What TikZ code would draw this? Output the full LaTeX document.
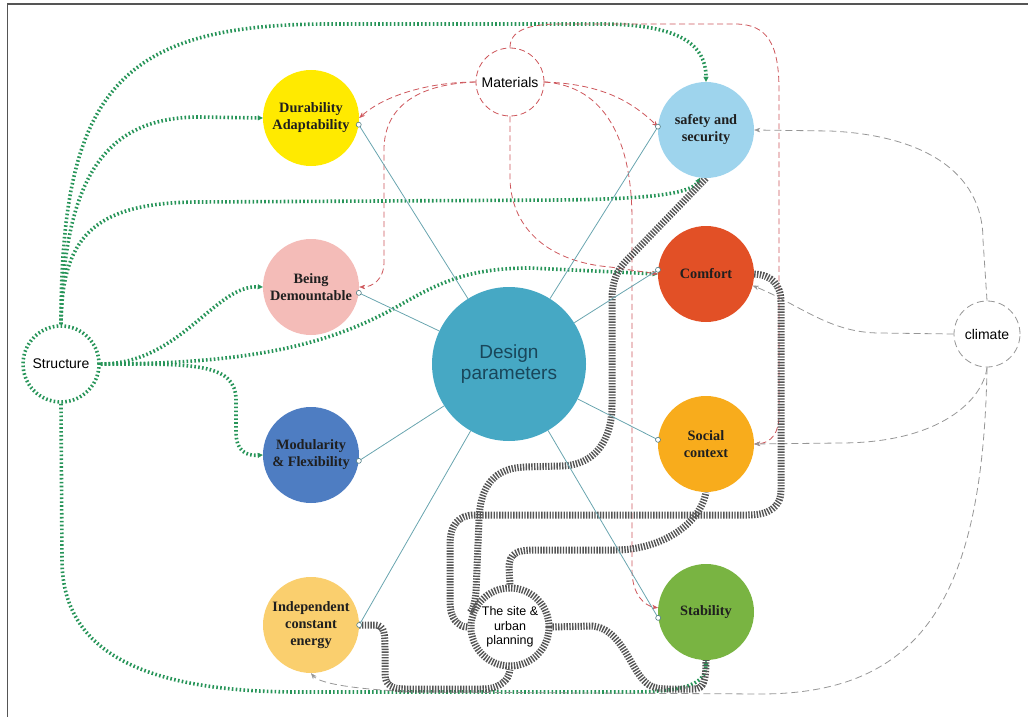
\documentclass[tikz,border=0pt]{standalone}
\usepackage{fontspec}
\setmainfont{Liberation Serif}
\newfontfamily\arialfont{Liberation Sans}
\usetikzlibrary{arrows.meta}

\pgfdeclarelayer{links}
\pgfsetlayers{links,main}

% fills of the parameter circles
\definecolor{durcol}{RGB}{255,234,0}
\definecolor{demcol}{RGB}{244,188,184}
\definecolor{modcol}{RGB}{78,125,194}
\definecolor{indcol}{RGB}{250,207,110}
\definecolor{safcol}{RGB}{158,212,237}
\definecolor{comcol}{RGB}{226,80,38}
\definecolor{soccol}{RGB}{248,172,28}
\definecolor{stacol}{RGB}{121,180,66}
\definecolor{hubcol}{RGB}{70,168,196}
\definecolor{hubtext}{RGB}{25,70,90}
% connector colours
\definecolor{linkteal}{RGB}{105,165,175}
\definecolor{dotgreen}{RGB}{38,148,88}
\definecolor{matred}{RGB}{205,85,90}
\definecolor{climgray}{RGB}{150,150,150}
\definecolor{sitegray}{RGB}{85,85,85}
\definecolor{framegray}{RGB}{85,85,85}

\begin{document}
\begin{tikzpicture}[x=1pt,y=-1pt,
  param/.style={circle, fill=#1, minimum size=96pt, inner sep=0pt, align=center,
    font=\bfseries\fontsize{14.3}{17}\selectfont, text=black!88},
  hub/.style={circle, fill=hubcol, minimum size=154pt, inner sep=0pt, align=center,
    font=\arialfont\fontsize{19}{21}\selectfont, text=hubtext},
  ring/.style={circle, fill=white, inner sep=0pt, align=center,
    font=\arialfont\fontsize{14}{16}\selectfont},
  link/.style={draw=linkteal, line width=0.8pt},
  enddot/.style={circle, draw=linkteal!75!black, fill=white, inner sep=0pt,
    minimum size=5pt, line width=0.6pt},
  structline/.style={draw=dotgreen, line width=3.6pt, dash pattern=on 1.6pt off 2.3pt},
  structarrow/.style={structline, -{Triangle[length=5pt,width=5pt,line width=0.3pt]}},
  matline/.style={draw=matred, line width=0.8pt, dash pattern=on 6pt off 3.5pt,
    -{Stealth[length=6pt,width=4.5pt,line width=0.3pt]}},
  climline/.style={draw=climgray, line width=0.8pt, dash pattern=on 7pt off 4pt,
    -{Stealth[length=6pt,width=4.5pt,line width=0.3pt]}},
  siteline/.style={draw=sitegray, line width=7pt, dash pattern=on 1.4pt off 1.4pt},
  frameline/.style={draw=framegray, line width=1.6pt}
]
\useasboundingbox (0,0) rectangle (1028,717);
\draw[frameline] (7.5,717) -- (7.5,4) -- (1028,4);

% parameter circles
\node[param=durcol] (dur) at (311,118) {Durability\\Adaptability};
\node[param=demcol] (dem) at (311,287) {Being\\Demountable};
\node[param=modcol] (mod) at (311,455) {Modularity\\\& Flexibility};
\node[param=indcol] (ind) at (311,625) {Independent\\constant\\energy};
\node[param=safcol] (saf) at (706,130) {safety and\\security};
\node[param=comcol] (com) at (706,274) {Comfort};
\node[param=soccol] (soc) at (706,444) {Social\\context};
\node[param=stacol] (sta) at (706,612) {Stability};
\node[hub] (dp) at (509,364) {Design\\parameters};

% factor circles
\node[ring, minimum size=68pt, draw=matred, line width=0.8pt, dash pattern=on 6pt off 3.5pt] (mat) at (510,82) {Materials};
\node[ring, minimum size=66pt, draw=climgray, line width=0.8pt, dash pattern=on 7pt off 4pt] (cli) at (987,334) {climate};
\node[ring, minimum size=76pt, structline] (st) at (61,364) {Structure};
\node[ring, minimum size=78pt, siteline, font=\arialfont\fontsize{12.5}{14.5}\selectfont] (site) at (510,627) {The site \&\\urban\\planning};

% design parameters to each parameter
\draw[link] (dp) -- (dur.-8) node[enddot]{};
\draw[link] (dp) -- (dem.-7) node[enddot]{};
\draw[link] (dp) -- (mod.-7) node[enddot]{};
\draw[link] (dp) -- (ind.east) node[enddot]{};
\draw[link] (dp) -- (saf.176) node[enddot]{};
\draw[link] (dp) -- (com.175) node[enddot]{};
\draw[link] (dp) -- (soc.175) node[enddot]{};
\draw[link] (dp) -- (sta.187) node[enddot]{};

\begin{pgfonlayer}{links}
% structure
\draw[structarrow] (st.north) .. controls (61,90) and (120,24) .. (330,24) -- (600,24) .. controls (680,24) and (706,45) .. (saf.north);
\draw[structarrow] (st.north) .. controls (64,170) and (110,117) .. (200,117) -- (dur.west);
\draw[structarrow] (st.north) .. controls (62,240) and (90,202) .. (200,202) -- (560,200) .. controls (640,199) and (690,195) .. (saf.-97);
\draw[structarrow] (st.east) .. controls (180,364) and (215,285) .. (dem.west);
\draw[structarrow] (st.east) .. controls (250,364) and (330,345) .. (400,305) .. controls (440,282) and (470,268) .. (530,268) -- (com.west);
\draw[structarrow] (st.east) .. controls (190,364) and (236,362) .. (236,400) -- (236,432) .. controls (236,450) and (245,456) .. (mod.west);
\draw[structarrow] (st.south) -- (62,560) .. controls (62,650) and (140,692) .. (300,692) -- (630,692) .. controls (690,692) and (706,682) .. (sta.south);

% materials
\draw[matline] (mat.west) .. controls (430,82) and (385,95) .. (dur.east);
\draw[matline] (mat.west) .. controls (420,84) and (384,105) .. (384,150) -- (384,262) .. controls (384,280) and (372,287) .. (dem.east);
\draw[matline] (mat.east) .. controls (600,84) and (630,100) .. (saf.176);
\draw[matline] (mat.east) .. controls (605,86) and (632,140) .. (632,220) -- (632,570) .. controls (632,595) and (645,606) .. (sta.175);
\draw[matline] (mat.south) -- (510,180) .. controls (512,230) and (550,262) .. (610,267) -- (com.west);
\draw[matline] (mat.north) .. controls (510,32) and (525,24) .. (560,24) -- (735,24) .. controls (768,24) and (779,45) .. (779,90) -- (779,415) .. controls (779,432) and (772,443) .. (soc.east);

% climate
\draw[climline] (cli.north) -- (983,240) .. controls (983,170) and (920,135) .. (830,131) -- (saf.east);
\draw[climline] (cli.west) -- (880,333) .. controls (830,333) and (800,305) .. (com.-14);
\draw[climline] (cli.south) .. controls (983,400) and (940,443) .. (840,443) -- (soc.east);
\draw[climline] (cli.south) .. controls (983,600) and (920,694) .. (760,694) -- (420,692) .. controls (360,690) and (320,684) .. (ind.south);

% site and urban planning
\draw[siteline] (ind.east) -- (375,625) .. controls (385,625) and (385,635) .. (385,650) -- (385,674) .. controls (385,686) and (393,689) .. (405,689) -- (482,689) .. controls (500,689) and (509,680) .. (site.south);
\draw[siteline] (site.east) -- (592,626) .. controls (618,628) and (628,660) .. (640,676) .. controls (648,687) and (655,689) .. (668,689) -- (694,689) .. controls (704,689) and (706,680) .. (sta.south);
\draw[siteline] (site.north) -- (509,568) .. controls (509,553) and (517,550) .. (535,550) -- (615,550) .. controls (660,550) and (700,525) .. (soc.south);
\draw[siteline] (com.east) .. controls (772,275) and (781,285) .. (781,302) -- (781,490) .. controls (781,508) and (768,515) .. (748,515) -- (475,515) .. controls (458,515) and (450,525) .. (450,545) -- (450,603) .. controls (450,618) and (458,627) .. (site.west);
\draw[siteline] (saf.south) -- (625,262) .. controls (615,273) and (612,285) .. (612,300) -- (612,405) .. controls (612,440) and (595,466) .. (560,466) -- (525,467) .. controls (495,468) and (480,485) .. (479,520) -- (476,592) .. controls (475,602) and (473,610) .. (site.160);
\end{pgfonlayer}
\end{tikzpicture}
\end{document}
